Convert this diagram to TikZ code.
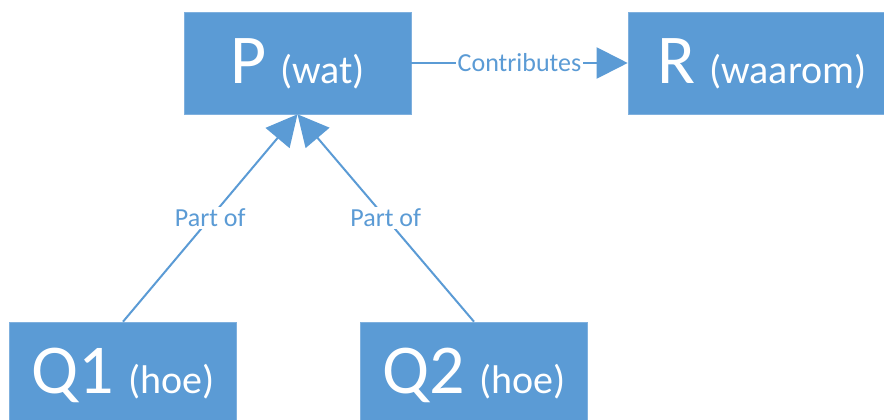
\documentclass[tikz,border=0pt]{standalone}
\usepackage{fontspec}
\setmainfont{Carlito}
\usetikzlibrary{arrows.meta}
\definecolor{officeblue}{HTML}{5B9BD5}
\definecolor{edgeblue}{HTML}{7FB0DE}
\tikzset{
  box/.style={fill=officeblue, draw=edgeblue, line width=0.6bp, text=white,
    minimum width=227bp, minimum height=102bp, inner sep=0pt,
    text height=50bp, text depth=10bp, align=center},
  conn/.style={draw=officeblue, line width=2bp,
    -{Triangle[length=31bp, width=31bp]}},
  lbl/.style={fill=white, text=officeblue, inner sep=1.5bp,
    font=\fontsize{26bp}{26bp}\selectfont}
}
\newcommand{\bigtxt}[2]{{\fontsize{70bp}{70bp}\selectfont #1}\hspace{14bp}{\fontsize{40bp}{40bp}\selectfont #2}}
\begin{document}
\begin{tikzpicture}[x=1bp,y=1bp]
\useasboundingbox (0,0) rectangle (884,419);
\begin{scope}
\clip (0,0) rectangle (884,419);
\node[box] (P) at (297.5,356) {\bigtxt{P}{(wat)}};
\node[box, minimum width=268bp] (R) at (762,356) {\bigtxt{R}{(waarom)}};
\node[box] (Q1) at (123,46) {\bigtxt{Q1}{(hoe)}};
\node[box] (Q2) at (474,46) {\bigtxt{Q2}{(hoe)}};
\draw[conn] (P.east) -- node[lbl] (c) {Contributes} (R.west);
\draw[conn] (Q1.north) -- node[lbl] (p1) {Part of} (P.south);
\draw[conn] (Q2.north) -- node[lbl] (p2) {Part of} (P.south);
\end{scope}
\end{tikzpicture}
\end{document}
